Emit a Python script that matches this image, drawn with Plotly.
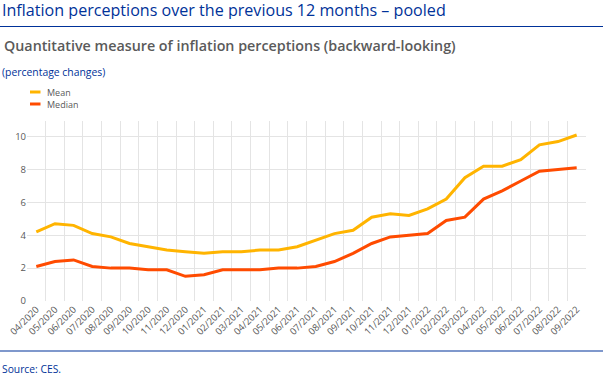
import plotly.graph_objects as go

months = ["04/2020","05/2020","06/2020","07/2020","08/2020","09/2020","10/2020","11/2020","12/2020",
          "01/2021","02/2021","03/2021","04/2021","05/2021","06/2021","07/2021","08/2021","09/2021",
          "10/2021","11/2021","12/2021","01/2022","02/2022","03/2022","04/2022","05/2022","06/2022",
          "07/2022","08/2022","09/2022"]
mean_vals = [4.2,4.7,4.6,4.1,3.9,3.5,3.3,3.1,3.0,2.9,3.0,3.0,3.1,3.1,3.3,3.7,4.1,4.3,5.1,5.3,5.2,5.6,
             6.2,7.5,8.2,8.2,8.6,9.5,9.7,10.1]
median_vals = [2.1,2.4,2.5,2.1,2.0,2.0,1.9,1.9,1.5,1.6,1.9,1.9,1.9,2.0,2.0,2.1,2.4,2.9,3.5,3.9,4.0,4.1,
               4.9,5.1,6.2,6.7,7.3,7.9,8.0,8.1]
series_names = ["Mean", "Median"]
colors = ["#FFB400", "#FF4B00"]
y_ticks = [0, 2, 4, 6, 8, 10]

W_IMG, H_IMG = 603, 376
L, R, T, B = 27, 17, 121, 75
PW = W_IMG - L - R
PH = H_IMG - T - B

def px_x(px):
    return (px - L) / PW

def px_y(py):
    return (H_IMG - B - py) / PH

BLUE = "#003299"
GREY = "#595959"
FONT = "Open Sans"

fig = go.Figure()
for name, vals, col in zip(series_names, [mean_vals, median_vals], colors):
    fig.add_trace(go.Scatter(x=months, y=vals, mode="lines", name=name,
                             line=dict(color=col, width=3), showlegend=False))

annotations = [
    dict(text="Inflation perceptions over the previous 12 months – pooled", x=px_x(0), y=px_y(10),
         xanchor="left", yanchor="middle", height=18,
         font=dict(size=16.1, color=BLUE, family=FONT)),
    dict(text="Quantitative measure of inflation perceptions (backward-looking)", x=px_x(2), y=px_y(45.5),
         xanchor="left", yanchor="middle", font=dict(size=14.3, color="#5a5a5a", family=FONT, weight=600)),
    dict(text="(percentage changes)", x=px_x(0), y=px_y(72),
         xanchor="left", yanchor="middle", font=dict(size=10.4, color=BLUE, family=FONT)),
    dict(text="Source: CES.", x=px_x(0), y=px_y(369),
         xanchor="left", yanchor="middle", font=dict(size=10.3, color=BLUE, family=FONT)),
]
shapes = [
    dict(type="line", xref="paper", yref="paper", x0=px_x(0), x1=px_x(603), y0=px_y(26.5), y1=px_y(26.5),
         line=dict(color=BLUE, width=1.2)),
    dict(type="line", xref="paper", yref="paper", x0=px_x(0), x1=px_x(603), y0=px_y(351), y1=px_y(351),
         line=dict(color=BLUE, width=1.2)),
]
for i, (name, col) in enumerate(zip(series_names, colors)):
    ly = 92 + 12 * i
    shapes.append(dict(type="line", xref="paper", yref="paper", x0=px_x(30), x1=px_x(40.5),
                       y0=px_y(ly), y1=px_y(ly), line=dict(color=col, width=3)))
    annotations.append(dict(text=name, x=px_x(46), y=px_y(ly), xanchor="left", yanchor="middle",
                            height=10, borderpad=0, font=dict(size=9, color=GREY, family=FONT)))
for a in annotations:
    a.update(xref="paper", yref="paper", showarrow=False)

fig.update_layout(
    width=W_IMG, height=H_IMG,
    margin=dict(l=L, r=R, t=T, b=B, pad=0),
    paper_bgcolor="white", plot_bgcolor="white",
    font=dict(family=FONT, color=GREY, size=9),
    annotations=annotations, shapes=shapes,
    xaxis=dict(type="category", tickson="boundaries", showgrid=True, gridcolor="#e4e4e4",
               tickangle=-45, ticks="outside", ticklen=8, tickcolor="rgba(0,0,0,0)",
               range=[-0.5, 29.5], showline=False, zeroline=False, automargin=False,
               tickfont=dict(size=9.5, color=GREY)),
    yaxis=dict(range=[0, 10.95], tickvals=y_ticks, showgrid=True, gridcolor="#e4e4e4",
               zeroline=False, showline=False, ticks="", automargin=False,
               tickfont=dict(size=9.5, color=GREY)),
)
fig.write_html("out.html", config={"displayModeBar": False},
               post_script="document.body.style.margin='0';document.body.style.overflow='hidden';")
